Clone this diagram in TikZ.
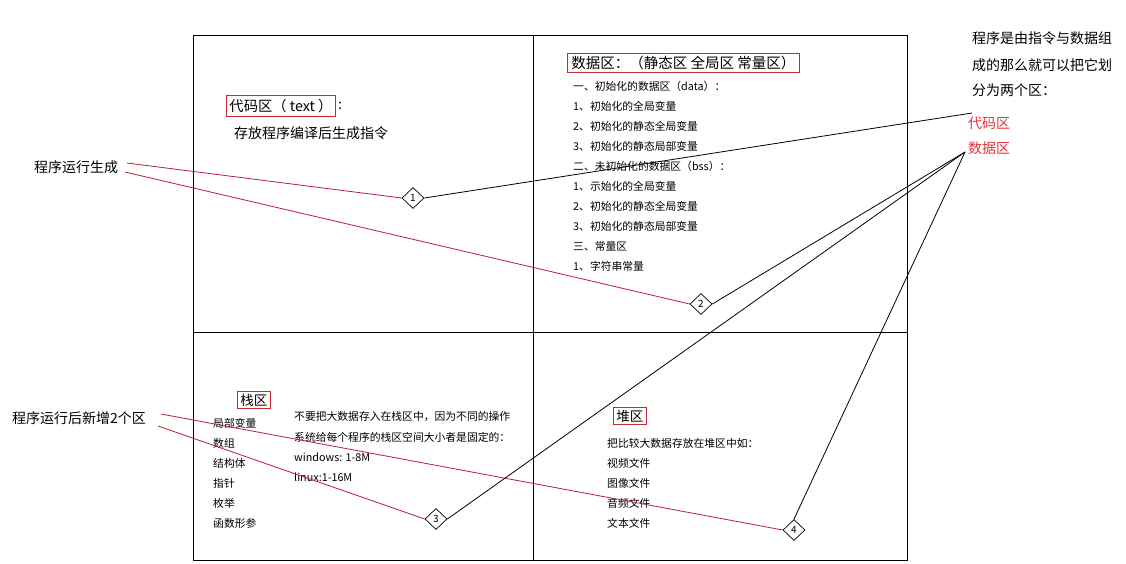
\documentclass[tikz,border=0pt]{standalone}
\usepackage{fontspec}
\setmainfont{Noto Sans CJK SC}
\usetikzlibrary{shapes.geometric}
\definecolor{boxred}{RGB}{200,40,50}
\definecolor{txtred}{RGB}{232,50,60}
\definecolor{linered}{RGB}{185,30,50}
\begin{document}
\begin{tikzpicture}[x=1pt,y=-1pt,
  t/.style={anchor=west,inner sep=0pt,font=\fontsize{10.8}{12}\selectfont},
  big/.style={anchor=west,inner sep=0pt,font=\fontsize{14}{16}\selectfont},
  tbox/.style={draw=boxred,line width=0.9pt,inner xsep=3.5pt,inner ysep=3pt,anchor=west},
  frame/.style={draw=black,line width=1pt},
  dia/.style={draw,diamond,inner sep=0pt,minimum width=22pt,minimum height=21pt,font=\fontsize{10}{10}\selectfont,line width=0.7pt},
  redlink/.style={draw=linered,line width=0.8pt},
  blklink/.style={draw=black,line width=0.8pt}]
\useasboundingbox[fill=white] (0,0) rectangle (1126,563);
% frame
\draw[frame] (193,35) rectangle (907,560);
\draw[frame] (193,332) -- (907,332);
\draw[frame] (533,35) -- (533,560);
% code area
\node[tbox,font=\fontsize{14.3}{16}\selectfont,inner xsep=3pt,inner ysep=4pt] (codebox) at (226,106) {代码区（ text ）};
\node[big,anchor=west,xshift=2pt] (colon) at (codebox.east) {:};
\node[big] (codetxt) at (234,133) {存放程序编译后生成指令};
% data area
\node[tbox,font=\fontsize{14.5}{16}\selectfont,inner xsep=4pt] (databox) at (567,63) {数据区：（静态区 全局区 常量区）};
\node[t] (da1) at (573,86) {一、初始化的数据区（data）：};
\node[t] (da2) at (573,106) {1、初始化的全局变量};
\node[t] (da3) at (573,126) {2、初始化的静态全局变量};
\node[t] (da4) at (573,146) {3、初始化的静态局部变量};
\node[t] (da5) at (573,166) {二、未初始化的数据区（bss）：};
\node[t] (da6) at (573,186) {1、示始化的全局变量};
\node[t] (da7) at (573,206) {2、初始化的静态全局变量};
\node[t] (da8) at (573,226) {3、初始化的静态局部变量};
\node[t] (da9) at (573,246) {三、常量区};
\node[t] (da10) at (573,266) {1、字符串常量};
% stack
\node[tbox,font=\fontsize{13.5}{15}\selectfont,inner xsep=3pt,inner ysep=2pt] (stackbox) at (237,400) {栈区};
\node[t] (s1) at (213,423) {局部变量};
\node[t] (s2) at (213,443) {数组};
\node[t] (s3) at (213,463) {结构体};
\node[t] (s4) at (213,483) {指针};
\node[t] (s5) at (213,503) {枚举};
\node[t] (s6) at (213,523) {函数形参};
\node[t] (sn1) at (294,417) {不要把大数据存入在栈区中，因为不同的操作};
\node[t] (sn2) at (294,437) {系统给每个程序的栈区空间大小者是固定的：};
\node[t] (sn3) at (294,457) {windows: 1-8M};
\node[t] (sn4) at (294,477) {linux:1-16M};
% heap
\node[tbox,font=\fontsize{13.5}{15}\selectfont,inner xsep=3pt,inner ysep=2pt] (heapbox) at (613,416) {堆区};
\node[t] (h1) at (607,443) {把比较大数据存放在堆区中如：};
\node[t] (h2) at (607,463) {视频文件};
\node[t] (h3) at (607,483) {图像文件};
\node[t] (h4) at (607,503) {音频文件};
\node[t] (h5) at (607,523) {文本文件};
% right notes
\node[big] (r1) at (972,38) {程序是由指令与数据组};
\node[big] (r2) at (972,65) {成的那么就可以把它划};
\node[big] (r3) at (972,90) {分为两个区：};
\node[big,text=txtred] (rc) at (968,123) {代码区};
\node[big,text=txtred] (rd) at (968,148) {数据区};
% left labels
\node[big] (gen) at (34,167) {程序运行生成};
\node[big] (gen2) at (12,418) {程序运行后新增2个区};
% diamonds
\node[dia] (d1) at (413,198) {1};
\node[dia] (d2) at (701,304) {2};
\node[dia] (d3) at (436,519) {3};
\node[dia] (d4) at (794,530) {4};
% connector ends
\coordinate (g1) at (127,163);
\coordinate (g2) at (125,172);
\coordinate (n1) at (161,414);
\coordinate (n2) at (158,426);
\coordinate (c1) at (972,113);
\coordinate (c2) at (965,152);
% connectors
\draw[redlink] (g1) -- (d1.west);
\draw[redlink] (g2) -- (d2.west);
\draw[redlink] (n1) -- (d4.west);
\draw[redlink] (n2) -- (d3.west);
\draw[blklink] (d1.east) -- (c1);
\draw[blklink] (d2.east) -- (c2);
\draw[blklink] (d3.east) -- (c2);
\draw[blklink] (d4.north) -- (c2);
\end{tikzpicture}
\end{document}
